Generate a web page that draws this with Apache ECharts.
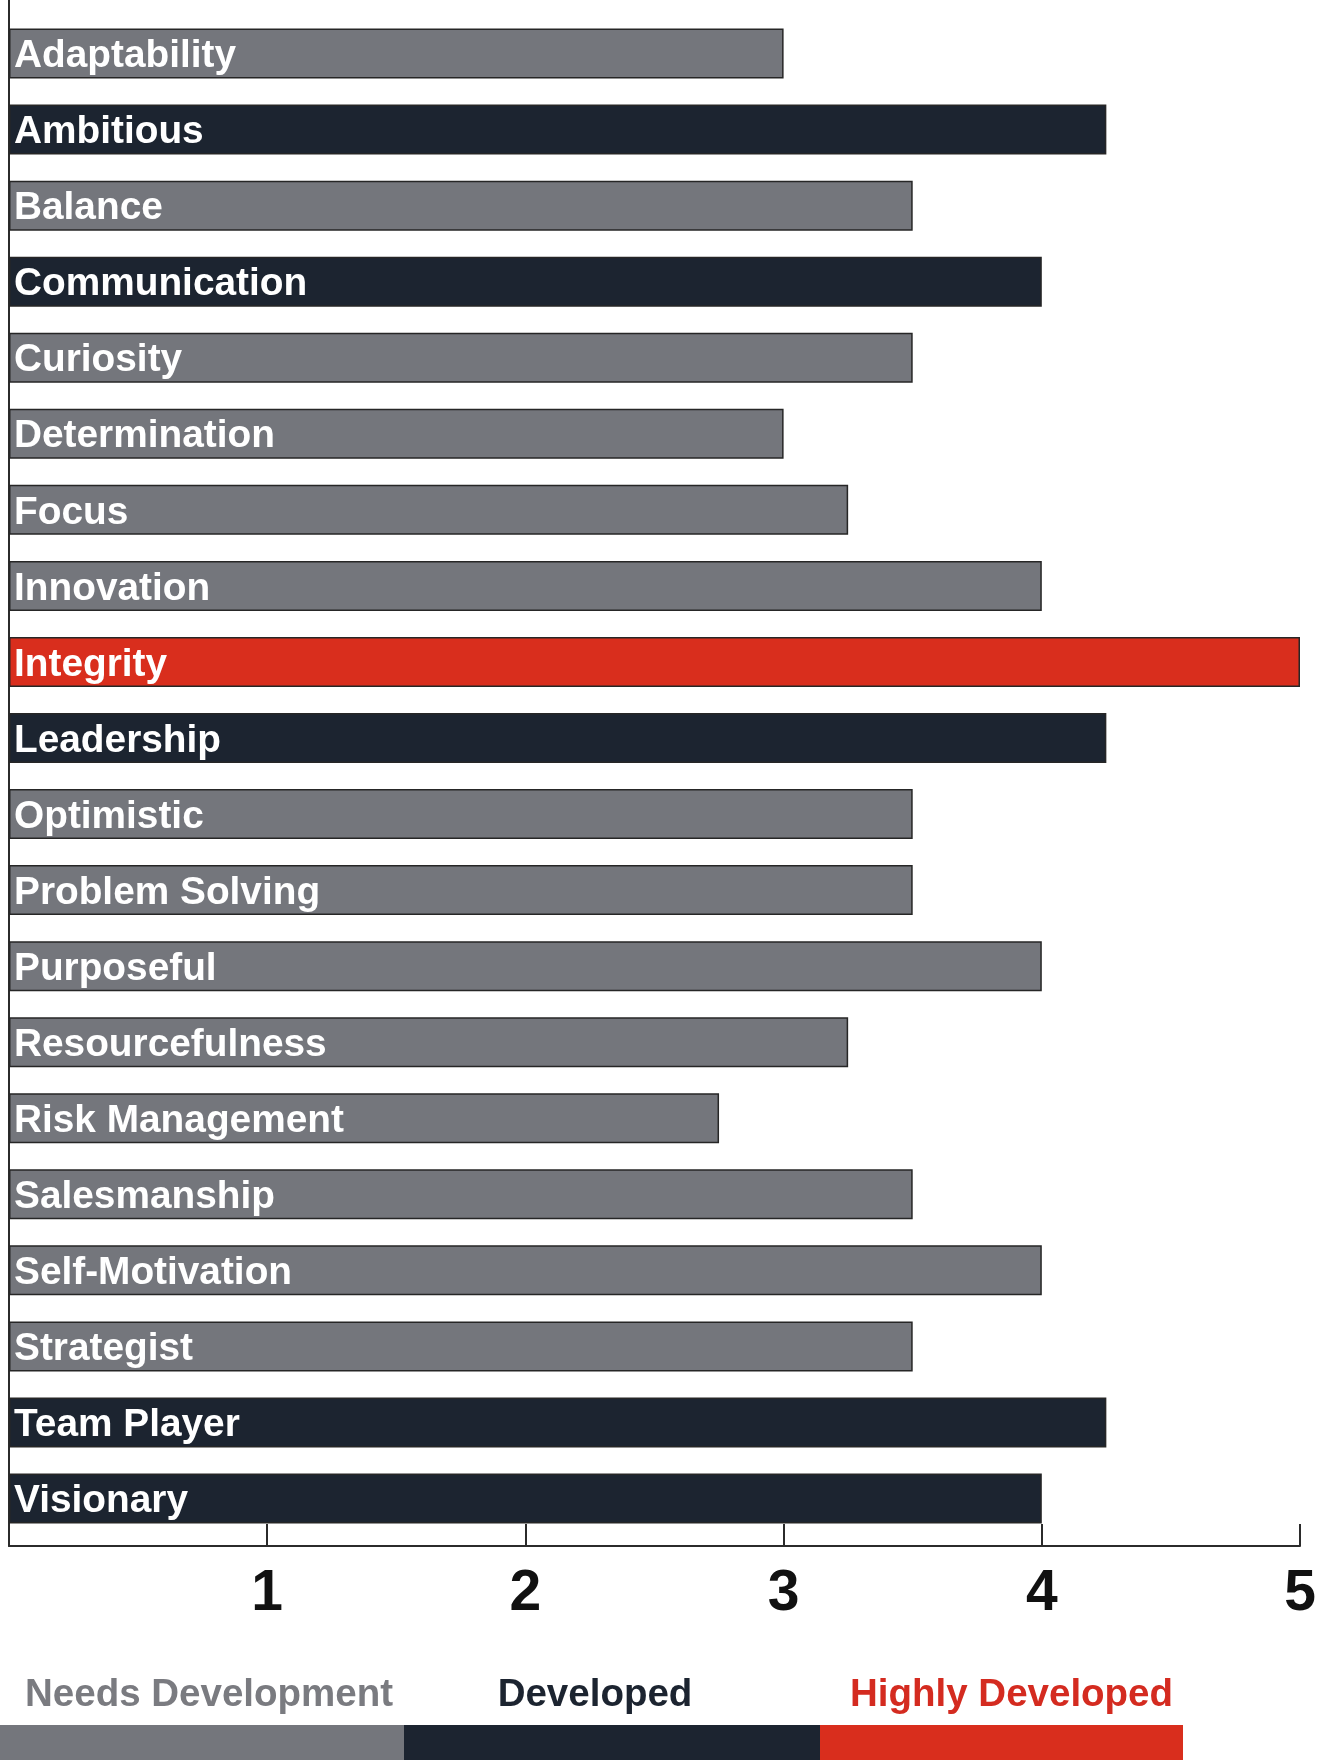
<!DOCTYPE html>
<html>
<head>
<meta charset="utf-8">
<script src="https://cdn.jsdelivr.net/npm/echarts@6/dist/echarts.min.js"></script>
<style>
html,body{margin:0;padding:0;background:#fff;}
#chart{width:1327px;height:1760px;}
</style>
</head>
<body>
<div id="chart"></div>
<script>
var categories = ['Adaptability','Ambitious','Balance','Communication','Curiosity','Determination','Focus','Innovation','Integrity','Leadership','Optimistic','Problem Solving','Purposeful','Resourcefulness','Risk Management','Salesmanship','Self-Motivation','Strategist','Team Player','Visionary'];
var scores = [3, 4.25, 3.5, 4, 3.5, 3, 3.25, 4, 5, 4.25, 3.5, 3.5, 4, 3.25, 2.75, 3.5, 4, 3.5, 4.25, 4];
// 0 = Needs Development, 1 = Developed, 2 = Highly Developed
var levels = [0, 1, 0, 1, 0, 0, 0, 0, 2, 1, 0, 0, 0, 0, 0, 0, 0, 0, 1, 1];
var levelNames = ['Needs Development', 'Developed', 'Highly Developed'];
var tickValues = [1, 2, 3, 4, 5];

var barColors = ['#74767c', '#1c2430', '#d92e1d'];
var legendTextColors = ['#7a7b80', '#1c2430', '#d42b20'];

var chart = echarts.init(document.getElementById('chart'), null, {renderer: 'canvas'});

var font = 'Liberation Sans, Arial, sans-serif';

var barData = scores.map(function (v, i) {
  return { value: v, itemStyle: { color: barColors[levels[i]] } };
});

var option = {
  backgroundColor: '#ffffff',
  animation: false,
  grid: [
    { left: 9, right: 27, top: 15.5, height: 1521, containLabel: false },
    { left: 9, right: 27, top: 0, bottom: 214, containLabel: false }
  ],
  xAxis: [
    { gridIndex: 0, type: 'value', min: 0, max: 5, show: false },
    {
      gridIndex: 1, type: 'value', min: 0, max: 5, interval: 1,
      axisLine: { show: true, lineStyle: { color: '#2b2b2b', width: 2 } },
      axisTick: { show: true, inside: true, length: 22, lineStyle: { color: '#2b2b2b', width: 2 } },
      splitLine: { show: false },
      axisLabel: {
        show: true, margin: 20, color: '#111', fontSize: 57, fontWeight: 'bold', fontFamily: font,
        showMinLabel: false,
        formatter: function (v) { return tickValues.indexOf(v) >= 0 ? String(v) : ''; }
      }
    }
  ],
  yAxis: [
    {
      gridIndex: 0, type: 'category', data: categories, inverse: true,
      axisLine: { show: false }, axisTick: { show: false }, axisLabel: { show: false }, splitLine: { show: false }
    },
    {
      gridIndex: 1, type: 'value', min: 0, max: 1,
      axisLine: { show: true, lineStyle: { color: '#2b2b2b', width: 2 } },
      axisTick: { show: false }, axisLabel: { show: false }, splitLine: { show: false }
    }
  ],
  series: [
    {
      type: 'bar',
      xAxisIndex: 0, yAxisIndex: 0,
      data: barData,
      barWidth: 50,
      itemStyle: { borderColor: '#262626', borderWidth: 1.5 },
      label: {
        show: true, position: 'insideLeft', distance: 5, offset: [0, 3],
        formatter: '{b}', color: '#ffffff', fontSize: 38.8, fontWeight: 'bold', fontFamily: font
      },
      z: 3
    }
  ],
  graphic: [
    { type: 'rect', shape: { x: 0, y: 1725, width: 404, height: 35 }, style: { fill: barColors[0] } },
    { type: 'rect', shape: { x: 404, y: 1725, width: 416, height: 35 }, style: { fill: barColors[1] } },
    { type: 'rect', shape: { x: 820, y: 1725, width: 363, height: 35 }, style: { fill: barColors[2] } },
    { type: 'text', x: 25, y: 1695, style: { text: levelNames[0], fill: legendTextColors[0], font: 'bold 38.5px ' + font, textAlign: 'left', textVerticalAlign: 'middle' } },
    { type: 'text', x: 595, y: 1695, style: { text: levelNames[1], fill: legendTextColors[1], font: 'bold 38.5px ' + font, textAlign: 'center', textVerticalAlign: 'middle' } },
    { type: 'text', x: 850, y: 1695, style: { text: levelNames[2], fill: legendTextColors[2], font: 'bold 38.5px ' + font, textAlign: 'left', textVerticalAlign: 'middle' } }
  ]
};
chart.setOption(option);
</script>
</body>
</html>
